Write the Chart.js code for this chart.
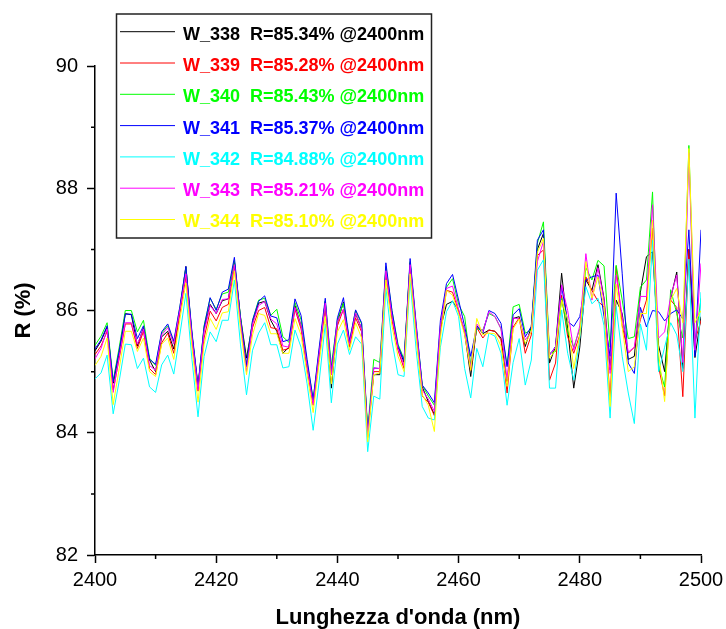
<!DOCTYPE html>
<html>
<head>
<meta charset="utf-8">
<script src="https://cdn.jsdelivr.net/npm/chart.js@4.4.0/dist/chart.umd.min.js"></script>
<style>
  html, body { margin: 0; padding: 0; background: #fff; }
  #wrap { width: 726px; height: 629px; }
</style>
</head>
<body>
<div id="wrap"><canvas id="chart" width="726" height="629"></canvas></div>
<script>
// wavelength (nm), 1 nm step
const wavelengths = [
  2400,2401,2402,2403,2404,2405,2406,2407,2408,2409,
  2410,2411,2412,2413,2414,2415,2416,2417,2418,2419,
  2420,2421,2422,2423,2424,2425,2426,2427,2428,2429,
  2430,2431,2432,2433,2434,2435,2436,2437,2438,2439,
  2440,2441,2442,2443,2444,2445,2446,2447,2448,2449,
  2450,2451,2452,2453,2454,2455,2456,2457,2458,2459,
  2460,2461,2462,2463,2464,2465,2466,2467,2468,2469,
  2470,2471,2472,2473,2474,2475,2476,2477,2478,2479,
  2480,2481,2482,2483,2484,2485,2486,2487,2488,2489,
  2490,2491,2492,2493,2494,2495,2496,2497,2498,2499,
  2500
];

const w338 = [
  85.34,85.50,85.73,84.81,85.30,85.95,85.93,85.42,85.72,85.19,
  85.00,85.57,85.66,85.37,86.00,86.72,85.60,84.75,85.70,86.10,
  85.95,86.16,86.19,86.80,85.90,85.22,85.80,86.12,86.15,85.84,
  85.66,85.30,85.40,86.08,85.75,85.10,84.50,85.30,86.15,84.73,
  85.80,86.14,85.45,85.95,85.70,84.00,84.95,84.95,86.70,85.90,
  85.40,85.15,86.78,85.70,84.75,84.51,84.30,85.70,86.10,86.15,
  86.00,85.63,84.92,85.75,85.62,85.68,85.66,85.55,84.78,85.87,
  85.90,85.41,85.74,87.00,87.26,85.14,85.41,86.61,85.70,84.73,
  85.40,86.50,86.33,86.75,86.20,85.03,86.17,85.95,85.20,85.25,
  86.30,86.88,86.96,85.43,85.00,86.20,86.63,85.05,87.00,85.23,
  85.90
];
const w339 = [
  85.28,85.42,85.66,84.70,85.22,85.78,85.78,85.38,85.66,85.05,
  84.95,85.47,85.63,85.30,85.95,86.55,85.50,84.68,85.55,85.99,
  85.83,86.05,86.10,86.70,85.80,85.08,85.72,86.00,86.05,85.72,
  85.70,85.35,85.38,86.02,85.70,85.05,84.45,85.25,86.05,84.95,
  85.75,86.02,85.40,85.88,85.65,83.92,85.00,85.00,86.60,85.85,
  85.35,85.05,86.70,85.65,84.60,84.50,84.28,85.65,86.33,86.30,
  85.98,85.66,85.02,85.72,85.55,85.68,85.66,85.52,84.65,85.73,
  85.88,85.30,85.60,86.90,86.99,84.86,85.14,86.25,85.57,85.30,
  85.60,86.55,86.33,86.15,86.06,84.54,86.72,85.75,85.30,85.40,
  85.85,86.17,87.35,85.08,84.60,86.17,86.05,84.59,87.00,85.50,
  85.84
];
const w340 = [
  85.43,85.58,85.80,84.85,85.40,86.00,86.00,85.65,85.84,85.22,
  85.10,85.63,85.75,85.47,86.05,86.70,85.62,84.75,85.75,86.20,
  86.02,86.27,86.30,86.82,85.90,85.10,85.84,86.17,86.20,85.92,
  86.02,85.57,85.48,86.13,85.85,85.15,84.55,85.35,86.15,85.10,
  85.85,86.12,85.50,86.00,85.78,84.05,85.20,85.15,86.72,86.00,
  85.45,85.20,86.80,85.75,84.78,84.60,84.45,85.75,86.38,86.52,
  86.10,85.90,85.12,85.70,85.68,85.95,85.90,85.70,85.10,86.06,
  86.10,85.63,85.68,87.10,87.45,85.30,85.33,86.20,85.65,85.40,
  85.70,86.70,86.50,86.82,86.73,85.40,86.74,86.17,85.54,85.57,
  86.38,86.50,87.94,85.10,84.75,86.34,85.95,85.55,88.70,85.45,
  86.20
];
const w341 = [
  85.37,85.52,85.75,84.83,85.35,85.94,85.94,85.54,85.75,85.20,
  85.12,85.65,85.78,85.50,86.06,86.72,85.65,84.77,85.73,86.21,
  86.00,86.30,86.35,86.87,85.88,85.10,85.84,86.15,86.24,85.91,
  85.88,85.49,85.52,86.19,85.92,85.20,84.54,85.40,86.20,85.00,
  85.88,86.21,85.50,86.01,85.80,84.00,85.06,85.05,86.78,86.00,
  85.42,85.18,86.85,85.78,84.78,84.65,84.49,85.84,86.44,86.59,
  86.17,85.74,85.25,85.75,85.63,86.00,85.95,85.79,85.08,85.93,
  86.03,85.57,85.74,87.15,87.32,85.27,85.41,86.39,85.82,85.74,
  85.90,86.50,86.55,86.58,85.90,85.25,87.92,86.60,85.14,84.97,
  86.05,85.73,86.00,85.98,85.83,85.95,86.01,85.86,87.32,85.25,
  87.32
];
const w342 = [
  84.88,84.98,85.27,84.31,84.85,85.45,85.44,85.05,85.22,84.75,
  84.66,85.11,85.27,84.96,85.60,86.28,85.20,84.26,85.25,85.65,
  85.49,85.84,85.84,86.50,85.45,84.62,85.35,85.63,85.80,85.44,
  85.44,85.06,85.08,85.68,85.40,84.80,84.04,84.85,85.78,84.49,
  85.45,85.68,85.28,85.57,85.45,83.69,84.60,84.55,86.37,85.50,
  84.95,84.92,86.50,85.35,84.43,84.24,84.21,85.40,85.98,86.16,
  85.90,85.05,84.57,85.38,85.08,85.63,85.58,85.30,84.45,85.15,
  85.54,84.78,85.19,86.66,86.83,84.73,84.73,86.01,85.30,84.86,
  85.55,86.39,86.11,86.20,85.75,84.24,86.07,85.25,84.65,84.15,
  85.78,85.35,87.15,85.00,85.40,85.80,85.60,85.00,86.84,84.24,
  86.30
];
const w343 = [
  85.21,85.38,85.70,84.66,85.25,85.80,85.80,85.45,85.70,85.10,
  85.02,85.60,85.72,85.45,86.00,86.60,85.55,84.70,85.65,86.08,
  85.95,86.18,86.19,86.75,85.82,85.00,85.78,86.08,86.15,85.86,
  85.78,85.42,85.40,86.05,85.75,85.08,84.46,85.30,86.12,84.95,
  85.82,86.02,85.45,85.96,85.70,83.95,85.06,85.05,86.65,85.90,
  85.38,85.10,86.75,85.72,84.70,84.55,84.35,85.75,86.36,86.40,
  86.02,85.65,85.08,85.78,85.66,85.98,85.90,85.70,84.87,85.88,
  85.86,85.52,85.65,86.80,87.13,85.27,85.40,86.42,86.00,85.35,
  85.75,86.93,86.17,86.70,86.17,84.97,86.58,85.90,85.32,85.40,
  86.23,86.23,87.73,85.55,85.65,86.23,86.58,85.15,88.58,85.35,
  86.77
];
const w344 = [
  85.10,85.25,85.55,84.46,85.05,85.66,85.66,85.33,85.55,85.00,
  84.92,85.45,85.55,85.20,85.85,86.45,85.40,84.50,85.45,85.87,
  85.69,85.96,85.98,86.65,85.70,84.95,85.60,85.95,85.92,85.62,
  85.62,85.30,85.30,85.87,85.60,84.95,84.33,85.15,85.90,84.80,
  85.65,85.85,85.35,85.80,85.55,83.85,84.95,84.98,86.50,85.75,
  85.25,85.00,86.60,85.55,84.62,84.45,84.02,85.55,86.33,86.25,
  85.95,85.60,85.02,85.87,85.60,85.63,85.62,85.42,84.76,85.70,
  85.86,85.46,85.65,86.95,87.18,85.22,85.35,86.17,85.85,85.05,
  85.60,86.80,86.20,86.55,86.06,84.43,86.43,85.72,85.00,85.08,
  85.95,85.95,87.48,85.30,84.51,86.17,86.36,85.80,88.65,85.80,
  86.00
];

const seriesNames = ['W_338', 'W_339', 'W_340', 'W_341', 'W_342', 'W_343', 'W_344'];
const seriesR = ['85.34', '85.28', '85.43', '85.37', '84.88', '85.21', '85.10'];
const seriesColors = ['#000000', '#ff0000', '#00ff00', '#0000ff', '#00ffff', '#ff00ff', '#ffff00'];
const seriesValues = [w338, w339, w340, w341, w342, w343, w344];

const xMinorTicks = [2410, 2430, 2450, 2470, 2490];
const yMinorTicks = [83, 85, 87, 89];

const FONT = '"Liberation Sans", Arial, Helvetica, sans-serif';

const whiteBg = {
  id: 'whiteBg',
  beforeDraw(chart) {
    const ctx = chart.ctx;
    ctx.save();
    ctx.fillStyle = '#fff';
    ctx.fillRect(0, 0, chart.width, chart.height);
    ctx.restore();
  }
};

// short minor ticks between the labelled ones
const minorTicks = {
  id: 'minorTicks',
  afterDraw(chart) {
    const { ctx, scales: { x, y } } = chart;
    ctx.save();
    ctx.strokeStyle = '#000';
    ctx.lineWidth = 1.5;
    ctx.beginPath();
    xMinorTicks.forEach(v => {
      const px = x.getPixelForValue(v);
      ctx.moveTo(px, y.bottom);
      ctx.lineTo(px, y.bottom + 4);
    });
    yMinorTicks.forEach(v => {
      const py = y.getPixelForValue(v);
      ctx.moveTo(x.left - 4, py);
      ctx.lineTo(x.left, py);
    });
    ctx.stroke();
    ctx.restore();
  }
};

// framed legend sitting over the plot, like the Origin one
const boxLegend = {
  id: 'boxLegend',
  afterDraw(chart) {
    const ctx = chart.ctx;
    ctx.save();
    ctx.fillStyle = '#fff';
    ctx.fillRect(116.5, 14, 315, 224);
    ctx.strokeStyle = '#222';
    ctx.lineWidth = 1.5;
    ctx.strokeRect(116.5, 14, 315, 224);
    ctx.font = 'bold 18px ' + FONT;
    ctx.textBaseline = 'middle';
    seriesNames.forEach((name, i) => {
      const yy = 31.7 + i * 31.3;
      ctx.strokeStyle = seriesColors[i];
      ctx.lineWidth = 1;
      ctx.beginPath();
      ctx.moveTo(120, yy);
      ctx.lineTo(175, yy);
      ctx.stroke();
      ctx.fillStyle = seriesColors[i];
      ctx.fillText(name, 183, yy + 3);
      ctx.fillText('R=' + seriesR[i] + '% @2400nm', 250, yy + 3);
    });
    ctx.restore();
  }
};

const datasets = seriesNames.map((name, i) => ({
  label: name + '  R=' + seriesR[i] + '% @2400nm',
  data: wavelengths.map((w, k) => ({ x: w, y: seriesValues[i][k] })),
  borderColor: seriesColors[i],
  backgroundColor: seriesColors[i],
  borderWidth: 1,
  pointRadius: 0,
  tension: 0,
  fill: false,
  order: seriesNames.length - i
}));

const axisGrid = {
  drawOnChartArea: false,
  drawTicks: true,
  tickLength: 8,
  tickWidth: 1.5,
  tickColor: '#000'
};

new Chart(document.getElementById('chart').getContext('2d'), {
  type: 'line',
  data: { datasets },
  options: {
    responsive: false,
    animation: false,
    devicePixelRatio: 1,
    layout: { padding: { top: 66, right: 25, bottom: 0, left: 0 } },
    plugins: {
      legend: { display: false },
      tooltip: { enabled: false }
    },
    scales: {
      x: {
        type: 'linear',
        min: 2400,
        max: 2500,
        ticks: {
          stepSize: 20,
          color: '#000',
          padding: 5,
          maxRotation: 0,
          font: { size: 20, family: FONT },
          callback: v => String(v)
        },
        grid: axisGrid,
        border: { display: true, color: '#000', width: 1.5 },
        title: {
          display: true,
          text: "Lunghezza d'onda (nm)",
          color: '#000',
          font: { size: 22, weight: 'bold', family: FONT, lineHeight: 1 },
          padding: { top: 0, bottom: 0 }
        },
        afterFit(scale) {
          scale.height = 74;
          scale.paddingLeft = 0;
          scale.paddingRight = 0;
        }
      },
      y: {
        min: 82,
        max: 90,
        ticks: { stepSize: 2, color: '#000', padding: 9, font: { size: 20, family: FONT } },
        grid: axisGrid,
        border: { display: true, color: '#000', width: 1.5 },
        title: {
          display: true,
          text: 'R (%)',
          color: '#000',
          font: { size: 22, weight: 'bold', family: FONT, lineHeight: 1 },
          padding: { top: 13, bottom: 0 }
        },
        afterFit(scale) { scale.width = 95; }
      }
    }
  },
  plugins: [whiteBg, minorTicks, boxLegend]
});
</script>
</body>
</html>
